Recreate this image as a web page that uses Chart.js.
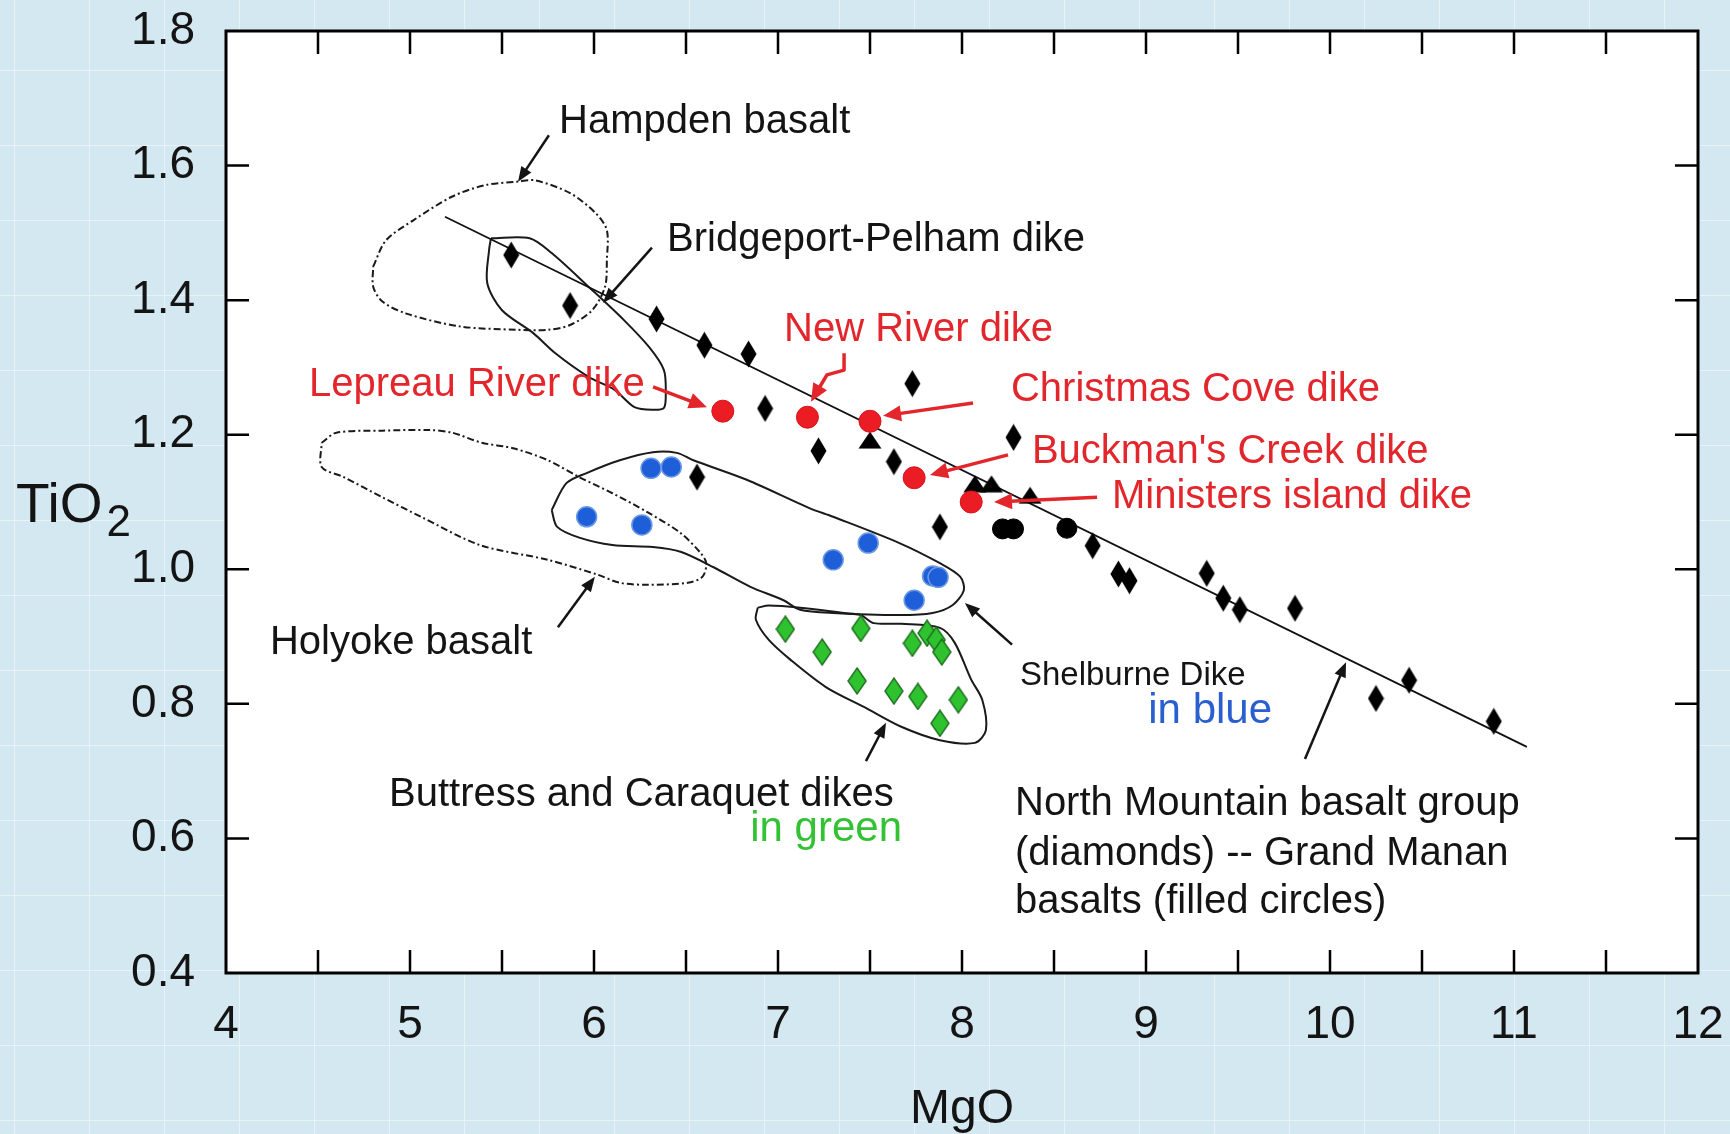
<!DOCTYPE html>
<html><head><meta charset="utf-8">
<script src="https://cdn.jsdelivr.net/npm/chart.js@4.4.1/dist/chart.umd.min.js"></script>
<style>
html,body{margin:0;padding:0;}
body{width:1730px;height:1134px;overflow:hidden;background-color:#d4e8f1;
background-image:linear-gradient(to right, rgba(232,244,249,0.9) 1px, transparent 1px),linear-gradient(to bottom, rgba(232,244,249,0.9) 1px, transparent 1px);
background-size:75px 75px;background-position:14px 70px;}
#c{position:absolute;left:0;top:0;}
</style></head><body>
<canvas id="c" width="1730" height="1134"></canvas>
<script>
// ---------------- DATA (MgO, TiO2 wt%) ----------------
const xTickValues = [4, 5, 6, 7, 8, 9, 10, 11, 12];
const yTickValues = [0.4, 0.6, 0.8, 1.0, 1.2, 1.4, 1.6, 1.8];
const xInnerTicks = [4.5, 5, 5.5, 6, 6.5, 7, 7.5, 8, 8.5, 9, 9.5, 10, 10.5, 11, 11.5];
const yInnerTicks = [0.6, 0.8, 1.0, 1.2, 1.4, 1.6];

// North Mountain basalt group (diamonds)
const northMountain = [
  [5.55,1.467],[5.87,1.392],[6.34,1.372],[6.60,1.333],[6.84,1.320],[6.93,1.239],
  [7.73,1.276],[7.22,1.176],[7.63,1.160],[8.28,1.196],[6.56,1.137],[7.88,1.063],
  [8.71,1.035],[8.85,0.993],[8.91,0.983],[9.33,0.994],[9.42,0.957],[9.51,0.940],
  [9.81,0.942],[10.25,0.808],[10.43,0.835],[10.89,0.774]
];
// Grand Manan basalts (filled circles)
const grandManan = [[8.22,1.060],[8.28,1.060],[8.57,1.061]];
// black triangles
const triangles = [[7.50,1.192],[8.07,1.127],[8.16,1.127],[8.37,1.110]];
// named dikes (red): Lepreau River, New River, Christmas Cove, Buckman's Creek, Ministers Island
const namedDikes = [[6.70,1.235],[7.16,1.226],[7.50,1.220],[7.74,1.136],[8.05,1.100]];
// Shelburne Dike (blue)
const shelburne = [[6.31,1.150],[6.42,1.152],[5.96,1.078],[6.26,1.066],[7.30,1.014],[7.49,1.039],[7.84,0.990],[7.87,0.988],[7.74,0.954]];
// Buttress and Caraquet dikes (green)
const buttressCaraquet = [[7.04,0.911],[7.45,0.912],[7.24,0.877],[7.73,0.890],[7.81,0.905],[7.86,0.895],[7.89,0.877],[7.43,0.834],[7.63,0.819],[7.76,0.811],[7.98,0.806],[7.88,0.771]];
// North Mountain trend line
const trendLine = [[5.19,1.524],[11.07,0.736]];

// field outlines
const hampdenField = [[4.80,1.450],[4.87,1.489],[5.02,1.519],[5.23,1.554],[5.41,1.571],[5.58,1.576],[5.68,1.578],[5.87,1.559],[6.01,1.529],[6.07,1.504],[6.07,1.460],[6.06,1.420],[5.99,1.385],[5.87,1.363],[5.75,1.356],[5.58,1.356],[5.27,1.361],[4.98,1.380],[4.85,1.398],[4.80,1.420],[4.80,1.450]];
const bridgeportField = [[5.44,1.492],[5.65,1.492],[5.77,1.470],[5.97,1.420],[6.16,1.371],[6.30,1.330],[6.38,1.296],[6.39,1.262],[6.38,1.240],[6.32,1.237],[6.22,1.241],[6.11,1.267],[5.97,1.286],[5.79,1.321],[5.67,1.351],[5.50,1.385],[5.42,1.425],[5.43,1.475],[5.44,1.492]];
const holyokeField = [[4.52,1.188],[4.60,1.203],[4.85,1.206],[5.10,1.207],[5.23,1.203],[5.39,1.188],[5.56,1.180],[5.75,1.162],[5.92,1.137],[6.10,1.113],[6.29,1.085],[6.47,1.054],[6.58,1.024],[6.61,1.009],[6.59,0.989],[6.51,0.980],[6.29,0.977],[6.14,0.980],[6.02,0.992],[5.75,1.014],[5.38,1.036],[5.06,1.078],[4.85,1.107],[4.64,1.137],[4.52,1.152],[4.52,1.188]];
const shelburneField = [[5.77,1.088],[5.85,1.128],[5.96,1.143],[6.14,1.162],[6.32,1.174],[6.45,1.173],[6.54,1.162],[6.83,1.133],[7.17,1.091],[7.30,1.078],[7.66,1.039],[7.88,1.009],[7.99,0.989],[8.01,0.969],[7.95,0.947],[7.84,0.935],[7.66,0.932],[7.30,0.935],[7.12,0.940],[7.03,0.954],[6.85,0.974],[6.65,1.003],[6.47,1.026],[6.32,1.033],[6.10,1.036],[5.92,1.047],[5.80,1.063],[5.77,1.088]];
const buttressField = [[6.89,0.943],[6.95,0.946],[7.12,0.943],[7.36,0.935],[7.45,0.932],[7.52,0.920],[7.67,0.919],[7.88,0.913],[7.96,0.891],[8.05,0.836],[8.11,0.806],[8.13,0.761],[8.07,0.742],[7.88,0.746],[7.67,0.766],[7.47,0.795],[7.26,0.825],[7.07,0.865],[6.95,0.895],[6.88,0.925],[6.89,0.943]];

// ---------------- ANNOTATIONS ----------------
const labelTexts = ['Hampden basalt','Bridgeport-Pelham dike','New River dike','Lepreau River dike','Christmas Cove dike',"Buckman's Creek dike",'Ministers island dike','Holyoke basalt','Shelburne Dike','in blue','Buttress and Caraquet dikes','in green','North Mountain basalt group','(diamonds) -- Grand Manan','basalts (filled circles)'];
const labelAnchors = [[5.810,1.665],[6.397,1.489],[7.033,1.356],[4.451,1.274],[8.266,1.266],[8.380,1.174],[8.815,1.107],[4.239,0.891],[8.315,0.841],[9.685,0.789],[4.886,0.665],[7.674,0.614],[8.288,0.651],[8.288,0.577],[8.288,0.506]];
const arrowPaths = [
  [[5.755,1.645],[5.587,1.576]],
  [[6.315,1.478],[6.049,1.396]],
  [[7.359,1.321],[7.359,1.296],[7.266,1.289],[7.179,1.249]],
  [[6.321,1.271],[6.614,1.241]],
  [[8.060,1.247],[7.571,1.228]],
  [[8.250,1.170],[7.826,1.140]],
  [[8.734,1.107],[8.174,1.100]],
  [[5.804,0.914],[6.005,0.989]],
  [[8.272,0.888],[8.016,0.950]],
  [[7.478,0.715],[7.587,0.772]],
  [[9.864,0.718],[10.087,0.862]]
];

// ---------------- STYLES ----------------
const FONT = '"Liberation Sans", Arial, Helvetica, sans-serif';
const BLACK = '#141414', RED = '#e3262c', BLUE = '#2a5fd0', GREEN = '#33c233';
const labelColors = [BLACK,BLACK,RED,RED,RED,RED,RED,BLACK,BLACK,BLUE,BLACK,GREEN,BLACK,BLACK,BLACK];
const labelSizes = [40,40,40,40,40,40,40,40,33,42,40,42,40,40,40];
const labelAligns = ['left','left','left','left','left','left','left','left','left','right','left','right','left','left','left'];
const arrowColors = [BLACK,BLACK,RED,RED,RED,RED,RED,BLACK,BLACK,BLACK,BLACK];

function markerCanvas(w, h, fn) {
  const c = document.createElement('canvas'); c.width = w; c.height = h;
  fn(c.getContext('2d'), w, h); return c;
}
function diamondPath(g, w, h, m) {
  g.beginPath(); g.moveTo(w/2, m); g.lineTo(w-m, h/2); g.lineTo(w/2, h-m); g.lineTo(m, h/2); g.closePath();
}
const diamondBlack = markerCanvas(17, 28, (g,w,h) => { diamondPath(g,w,h,0.5); g.fillStyle = '#000'; g.fill(); });
const diamondGreen = markerCanvas(20, 28, (g,w,h) => { diamondPath(g,w,h,1); g.fillStyle = '#2fc22f'; g.fill(); g.lineWidth = 1.4; g.strokeStyle = '#1f6e1f'; g.stroke(); });
const triangleBlack = markerCanvas(24, 18, (g,w,h) => { g.beginPath(); g.moveTo(w/2,0.5); g.lineTo(w-0.5,h-0.5); g.lineTo(0.5,h-0.5); g.closePath(); g.fillStyle = '#000'; g.fill(); });

const xy = arr => arr.map(p => ({x: p[0], y: p[1]}));
function outline(label, arr, dash) {
  return {label, data: xy(arr), showLine: true, pointRadius: 0, borderColor: '#1a1a1a', borderWidth: 2,
          borderDash: dash || [], tension: 0.3, fill: false, order: 20};
}

function drawArrow(ctx, pts, color, lw, hl, hw) {
  const n = pts.length;
  const [x1,y1] = pts[n-2], [x2,y2] = pts[n-1];
  const a = Math.atan2(y2-y1, x2-x1);
  const bx = x2 - hl*Math.cos(a), by = y2 - hl*Math.sin(a);
  ctx.save();
  ctx.strokeStyle = color; ctx.fillStyle = color; ctx.lineWidth = lw; ctx.lineJoin = 'round'; ctx.lineCap = 'butt';
  ctx.beginPath(); ctx.moveTo(pts[0][0], pts[0][1]);
  for (let i = 1; i < n-1; i++) ctx.lineTo(pts[i][0], pts[i][1]);
  ctx.lineTo(bx + 2*Math.cos(a), by + 2*Math.sin(a));
  ctx.stroke();
  ctx.beginPath(); ctx.moveTo(x2, y2);
  ctx.lineTo(bx + hw*Math.sin(a), by - hw*Math.cos(a));
  ctx.lineTo(bx - hw*Math.sin(a), by + hw*Math.cos(a));
  ctx.closePath(); ctx.fill();
  ctx.restore();
}

const whiteArea = {
  id: 'whiteArea',
  beforeDraw(chart) {
    const {ctx, chartArea: a} = chart;
    ctx.save(); ctx.fillStyle = '#ffffff'; ctx.fillRect(a.left, a.top, a.right - a.left, a.bottom - a.top); ctx.restore();
  }
};

const overlay = {
  id: 'overlay',
  afterDatasetsDraw(chart) {
    const {ctx, chartArea: a} = chart;
    const sx = chart.scales.x, sy = chart.scales.y;
    const P = p => [sx.getPixelForValue(p[0]), sy.getPixelForValue(p[1])];
    ctx.save();
    // frame
    ctx.strokeStyle = '#000'; ctx.lineWidth = 3;
    ctx.strokeRect(a.left, a.top, a.right - a.left, a.bottom - a.top);
    // inward ticks
    ctx.lineWidth = 2.5; ctx.beginPath();
    const TL = 23;
    xInnerTicks.forEach(v => { const x = sx.getPixelForValue(v);
      ctx.moveTo(x, a.bottom); ctx.lineTo(x, a.bottom - TL); ctx.moveTo(x, a.top); ctx.lineTo(x, a.top + TL); });
    yInnerTicks.forEach(v => { const y = sy.getPixelForValue(v);
      ctx.moveTo(a.left, y); ctx.lineTo(a.left + TL, y); ctx.moveTo(a.right, y); ctx.lineTo(a.right - TL, y); });
    ctx.stroke();
    // arrows
    arrowPaths.forEach((path, i) => {
      const red = arrowColors[i] === RED;
      drawArrow(ctx, path.map(P), arrowColors[i], red ? 3.5 : 2.5, red ? 18 : 15, red ? 8 : 6);
    });
    // labels
    ctx.textBaseline = 'middle';
    labelTexts.forEach((t, i) => {
      const [x, y] = P(labelAnchors[i]);
      ctx.font = labelSizes[i] + 'px ' + FONT;
      ctx.fillStyle = labelColors[i];
      ctx.textAlign = labelAligns[i];
      ctx.fillText(t, x, y);
    });
    // y-axis title TiO2 with subscript
    ctx.fillStyle = BLACK; ctx.textAlign = 'left'; ctx.textBaseline = 'alphabetic';
    ctx.font = '55px ' + FONT;
    ctx.fillText('TiO', a.left - 210, 522);
    const w = ctx.measureText('TiO').width;
    ctx.font = '44px ' + FONT;
    ctx.fillText('2', a.left - 210 + w + 4, 536);
    ctx.restore();
  }
};

const noPad = s => { s.paddingTop = 0; s.paddingBottom = 0; s.paddingLeft = 0; s.paddingRight = 0; };

new Chart(document.getElementById('c'), {
  type: 'scatter',
  data: { datasets: [
    {label: 'Named dikes', data: xy(namedDikes), pointStyle: 'circle', pointRadius: 11, backgroundColor: '#ec1c24', borderColor: '#d8141c', borderWidth: 1, order: 0},
    {label: 'Shelburne Dike', data: xy(shelburne), pointStyle: 'circle', pointRadius: 10, backgroundColor: '#1e5fd9', borderColor: '#6b98e4', borderWidth: 1.5, order: 1},
    {label: 'Buttress and Caraquet dikes', data: xy(buttressCaraquet), pointStyle: diamondGreen, pointRadius: 10, order: 2},
    {label: 'North Mountain basalt group', data: xy(northMountain), pointStyle: diamondBlack, pointRadius: 10, order: 3},
    {label: 'Grand Manan basalts', data: xy(grandManan), pointStyle: 'circle', pointRadius: 10, backgroundColor: '#000', borderColor: '#000', borderWidth: 1, order: 3},
    {label: 'Triangles', data: xy(triangles), pointStyle: triangleBlack, pointRadius: 10, order: 3},
    {label: 'Trend', data: xy(trendLine), showLine: true, pointRadius: 0, borderColor: '#111', borderWidth: 1.8, fill: false, order: 10},
    outline('Hampden basalt field', hampdenField, [7,3,2,3]),
    outline('Bridgeport-Pelham field', bridgeportField),
    outline('Holyoke basalt field', holyokeField, [7,3,2,3]),
    outline('Shelburne field', shelburneField),
    outline('Buttress field', buttressField)
  ]},
  options: {
    responsive: false, animation: false, devicePixelRatio: 1, events: [],
    layout: {padding: {left: 0, right: 32, top: 31, bottom: 0}},
    plugins: {legend: {display: false}, tooltip: {enabled: false}},
    scales: {
      x: {
        type: 'linear', min: 4, max: 12,
        afterBuildTicks: s => { s.ticks = xTickValues.map(v => ({value: v})); },
        afterFit: s => { s.height = 161; noPad(s); },
        grid: {display: false, drawTicks: false}, border: {display: false},
        ticks: {font: {family: FONT, size: 46}, color: BLACK, padding: 25, maxRotation: 0, autoSkip: false, callback: v => String(v)},
        title: {display: true, text: 'MgO', font: {family: FONT, size: 48, lineHeight: 1}, color: BLACK, padding: 0}
      },
      y: {
        type: 'linear', min: 0.4, max: 1.8,
        afterBuildTicks: s => { s.ticks = yTickValues.map(v => ({value: v})); },
        afterFit: s => { s.width = 226; noPad(s); },
        grid: {display: false, drawTicks: false}, border: {display: false},
        ticks: {font: {family: FONT, size: 46}, color: BLACK, padding: 31, autoSkip: false, callback: v => v.toFixed(1)}
      }
    }
  },
  plugins: [whiteArea, overlay]
});
</script>
</body></html>
